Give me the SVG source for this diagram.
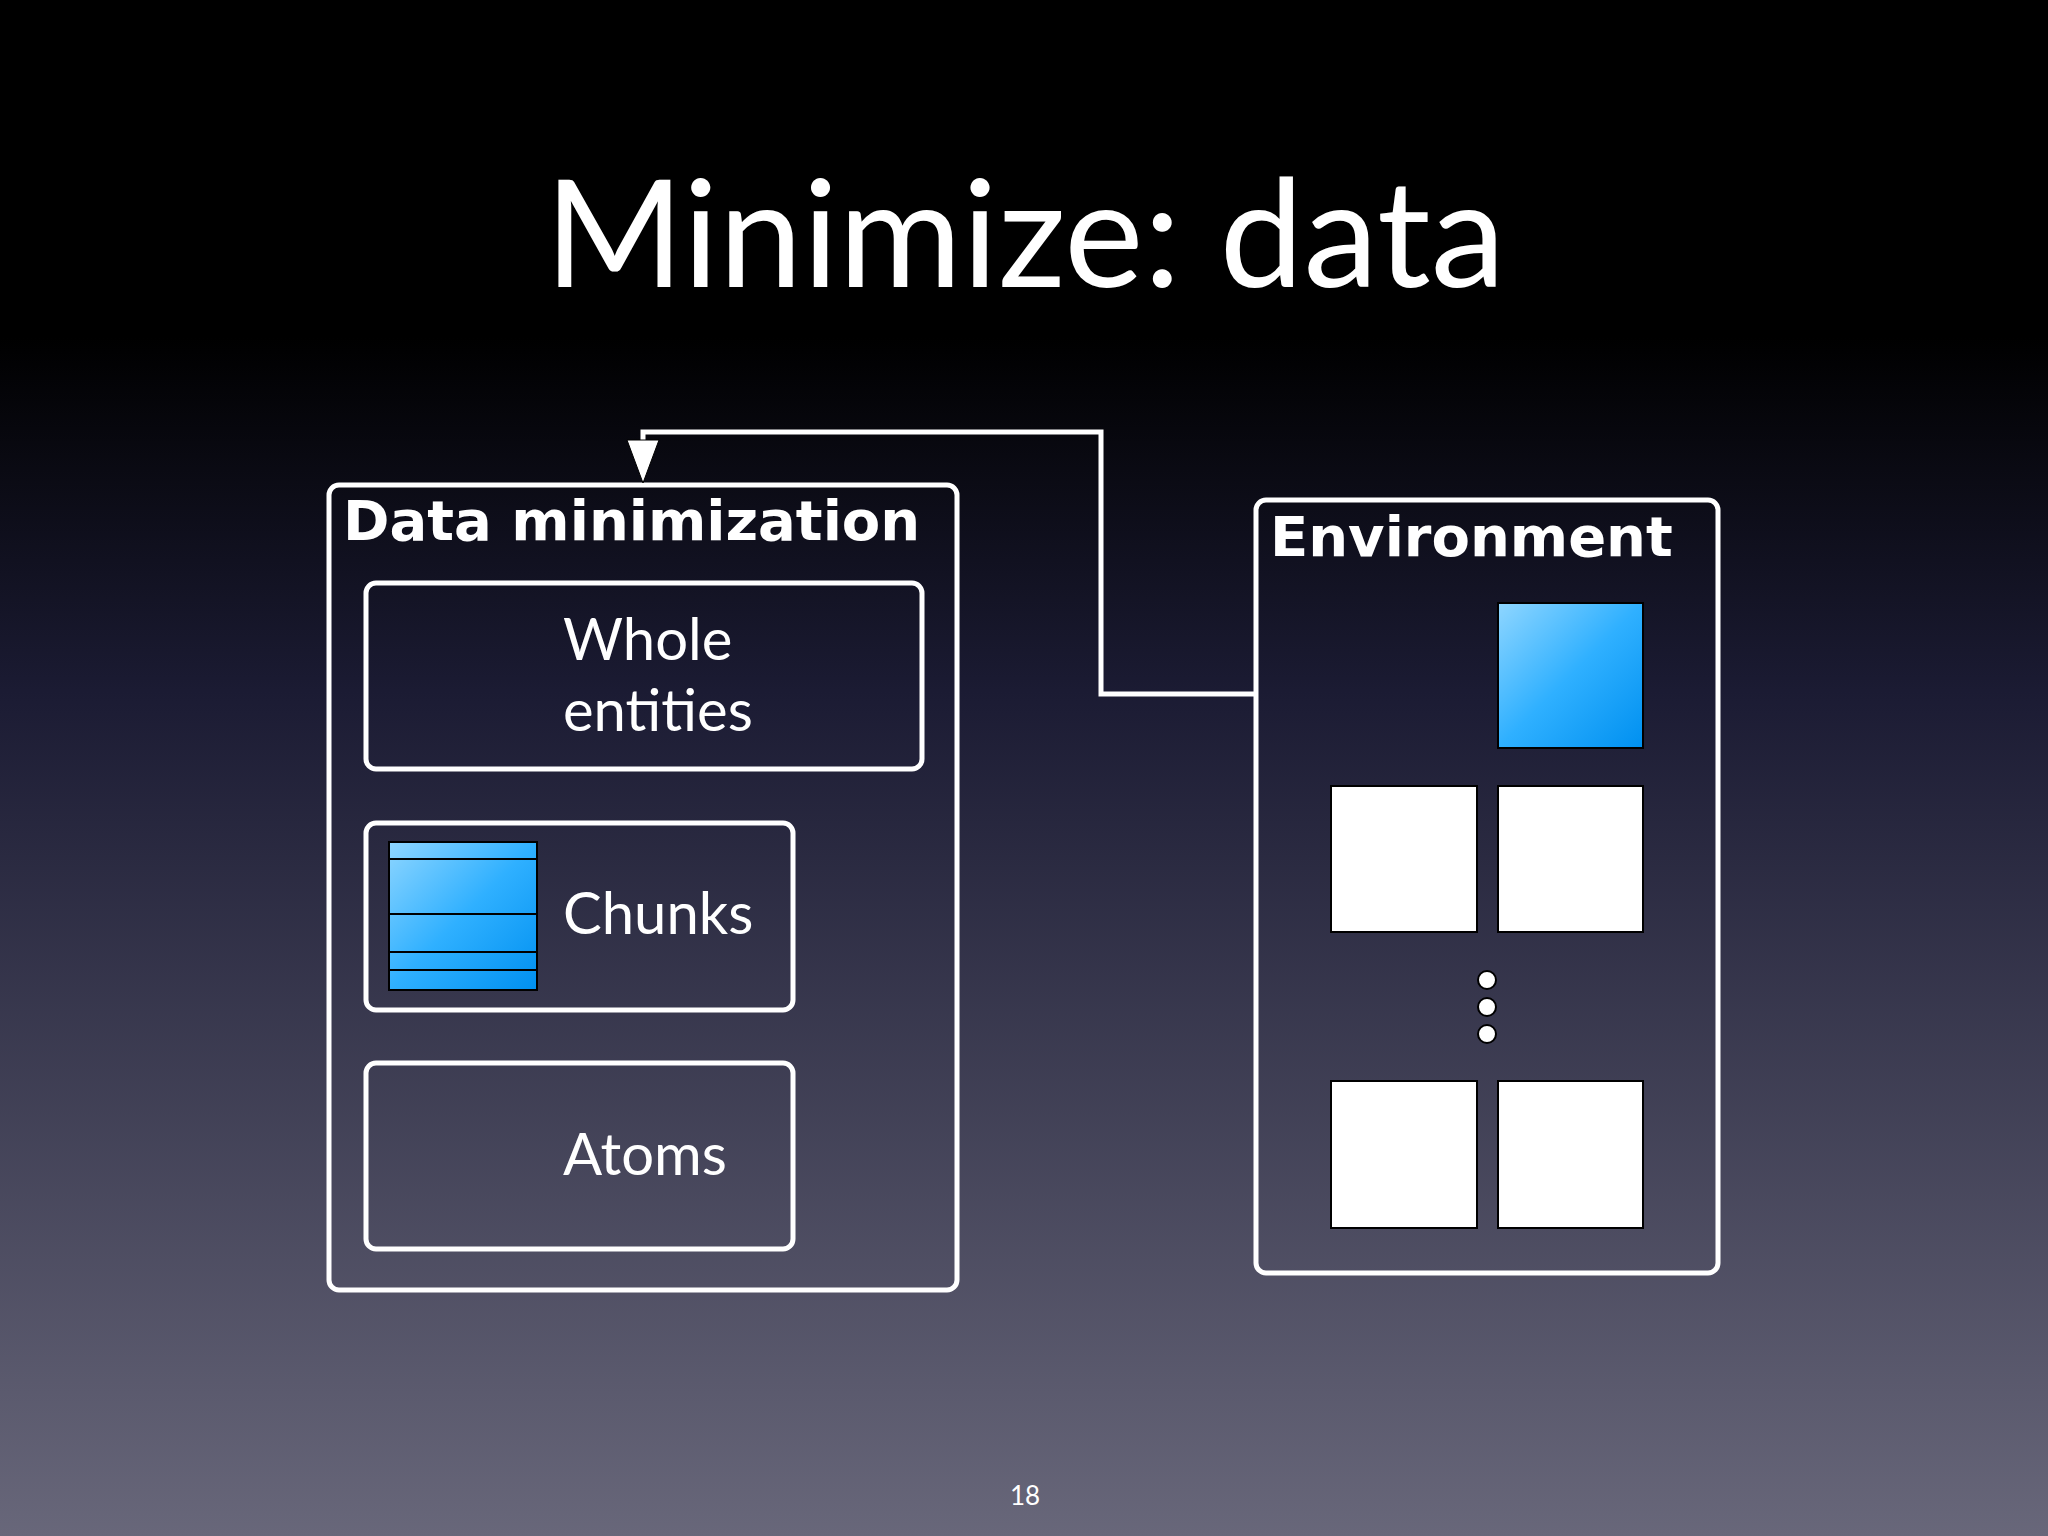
<svg xmlns="http://www.w3.org/2000/svg" width="2048" height="1536" viewBox="0 0 2048 1536">
<defs>
<linearGradient id="bg" x1="0" y1="0" x2="0" y2="1">
<stop offset="0" stop-color="#000"/><stop offset="0.22" stop-color="#000"/><stop offset="0.45" stop-color="#1b1b33"/><stop offset="1" stop-color="#68677a"/>
</linearGradient>
<linearGradient id="blue" x1="0" y1="0" x2="1" y2="1">
<stop offset="0" stop-color="#8fd6ff"/><stop offset="0.5" stop-color="#2fb0ff"/><stop offset="1" stop-color="#0090f0"/>
</linearGradient>
<style>
.box{fill:none;stroke:#fff;stroke-width:5}
.t{font-family:Lato,"Open Sans",sans-serif;fill:#fff}
.b{font-family:"DejaVu Sans",sans-serif;font-weight:bold;fill:#fff;font-size:56px}
.sq{fill:#fff;stroke:#000;stroke-width:2}
</style>
</defs>
<rect width="2048" height="1536" fill="url(#bg)"/>
<text class="t" x="1025" y="287" font-size="150" text-anchor="middle">Minimize: data</text>
<g id="dataMin">
<rect class="box" x="329" y="485" width="628" height="805" rx="10"/>
<text class="b" x="343" y="540">Data minimization</text>
</g>
<g id="whole">
<rect class="box" x="366" y="583" width="556" height="186" rx="10"/>
<text class="t" x="563" y="660" font-size="58">Whole</text>
<text class="t" x="563" y="731" font-size="58">entities</text>
</g>
<g id="chunks">
<rect class="box" x="366" y="823" width="427" height="187" rx="10"/>
<rect x="389" y="842" width="148" height="148" fill="url(#blue)" stroke="#000" stroke-width="2"/>
<g stroke="#000" stroke-width="2"><line x1="389" y1="859" x2="537" y2="859"/><line x1="389" y1="914" x2="537" y2="914"/><line x1="389" y1="952" x2="537" y2="952"/><line x1="389" y1="970" x2="537" y2="970"/></g>
<text class="t" x="563" y="934" font-size="58">Chunks</text>
</g>
<g id="atoms">
<rect class="box" x="366" y="1063" width="427" height="186" rx="10"/>
<text class="t" x="563" y="1175" font-size="58">Atoms</text>
</g>
<g id="environment">
<rect class="box" x="1256" y="500" width="462" height="773" rx="10"/>
<text class="b" x="1270" y="556">Environment</text>
<rect x="1498" y="603" width="145" height="145" fill="url(#blue)" stroke="#000" stroke-width="2"/>
<rect class="sq" x="1331" y="786" width="146" height="146"/>
<rect class="sq" x="1498" y="786" width="145" height="146"/>
<rect class="sq" x="1331" y="1081" width="146" height="147"/>
<rect class="sq" x="1498" y="1081" width="145" height="147"/>
<g fill="#fff" stroke="#000" stroke-width="2"><circle cx="1487" cy="980" r="9"/><circle cx="1487" cy="1007" r="9"/><circle cx="1487" cy="1034" r="9"/></g>
</g>
<g id="connectors">
<polyline points="1256,694 1101,694 1101,432 643,432 643,450" fill="none" stroke="#fff" stroke-width="5"/>
<polygon points="627,440 659,440 643,483" fill="#fff" stroke="#000" stroke-width="1"/>
</g>
<text class="t" x="1025" y="1505" font-size="26" text-anchor="middle">18</text>
</svg>
